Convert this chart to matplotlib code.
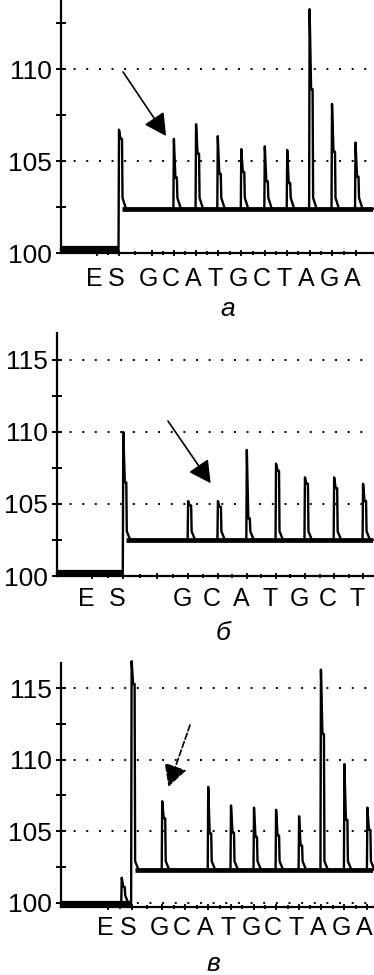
import numpy as np
import matplotlib.pyplot as plt
from matplotlib.ticker import FixedLocator, MultipleLocator, NullFormatter

plt.rcParams['font.family'] = ['Liberation Sans', 'DejaVu Sans']

W, H = 374, 975

# ---- panel а ----
letters_a = ['E', 'S', 'G', 'C', 'A', 'T', 'G', 'C', 'T', 'A', 'G', 'A']
ticks_a = [1.61, 2.59, 4.06, 5.04, 6.03, 7.00, 8.05, 9.10, 10.10, 11.10, 12.10, 13.15]
peak_x_a = [2.59, 5.04, 6.03, 7.00, 8.05, 9.10, 10.10, 11.10, 12.10, 13.15]
peak_top_a = [106.7, 106.2, 107.0, 106.35, 105.65, 105.8, 105.6, 113.25, 108.1, 106.0]
peak_sh_a = [106.2, 104.1, 105.4, 104.3, 104.4, 103.9, 103.8, 108.9, 105.5, 104.15]
base_a = (100.2, 102.4)

# ---- panel б ----
letters_b = ['E', 'S', '', 'G', 'C', 'A', 'T', 'G', 'C', 'T']
ticks_b = [1.20, 2.27, 3.42, 4.49, 5.51, 6.50, 7.50, 8.49, 9.49, 10.48]
peak_x_b = [2.27, 4.49, 5.51, 6.50, 7.50, 8.49, 9.49, 10.48]
peak_top_b = [110.0, 105.2, 105.2, 108.75, 107.8, 106.85, 106.85, 106.4]
peak_sh_b = [106.5, 104.9, 104.8, 104.0, 107.3, 106.4, 106.1, 105.2]
base_b = (100.2, 102.5)

# ---- panel в ----
letters_c = ['E', 'S', 'G', 'C', 'A', 'T', 'G', 'C', 'T', 'A', 'G', 'A']
ticks_c = [2.04, 3.07, 4.40, 5.39, 6.40, 7.39, 8.39, 9.35, 10.35, 11.30, 12.32, 13.32]
peak_x_c = [2.64, 3.07, 4.40, 6.40, 7.39, 8.39, 9.35, 10.35, 11.30, 12.32, 13.32]
peak_top_c = [101.75, 116.9, 107.1, 108.1, 106.8, 106.65, 106.5, 106.05, 116.3, 109.7, 106.65]
peak_sh_c = [101.1, 115.3, 105.9, 104.85, 104.9, 104.6, 104.7, 104.0, 111.8, 105.8, 105.1]
base_c = (99.9, 102.3)

fig = plt.figure(figsize=(W / 100, H / 100), dpi=100)


def add_panel(l, t, r, b):
    return fig.add_axes([l / W, 1 - b / H, (r - l) / W, (b - t) / H])


def draw(ax, box, xmax, ylim, ticks, letters, px, tops, shs, base, step_x,
         grid, dx_lab, dy_lab, arrow, dashed=False):
    ppu = (box[2] - box[0]) / xmax
    d = lambda p: p / ppu
    pre, post = base
    xs, ys = [0], [pre]
    for x, t, s in zip(px, tops, shs):
        b0 = pre if x <= step_x else post
        b1 = pre if x < step_x else post
        xs += [x - d(0.5), x, x + d(1.5), x + d(3), x + d(3.5), x + d(7)]
        ys += [b0, t, s, s, b1 + 0.6, b1]
    xs.append(xmax)
    ys.append(post)
    # noisy baseline band
    ax.plot([0, step_x], [pre, pre], color='k', lw=4.5, clip_on=False,
            solid_capstyle='butt')
    ax.plot([step_x + d(3), xmax], [post, post], color='k', lw=3.4,
            solid_capstyle='butt')
    ax.plot(xs, ys, color='k', lw=1.7, clip_on=False)

    for g in grid:
        ax.axhline(g, color='k', lw=1.4, ls=(0, (1, 5.5)), zorder=0)

    ax.set_xlim(0, xmax)
    ax.set_ylim(*ylim)
    for s in ['top', 'right']:
        ax.spines[s].set_visible(False)
    for s in ['left', 'bottom']:
        ax.spines[s].set_linewidth(1.6)

    ax.yaxis.set_major_locator(MultipleLocator(5))
    ax.yaxis.set_minor_locator(MultipleLocator(2.5))
    ax.tick_params(axis='y', which='both', direction='inout', length=6.5,
                   width=1.4, labelsize=19, pad=3)
    mids = [(a + b) / 2 for a, b in zip(ticks[:-1], ticks[1:])]
    ax.xaxis.set_major_locator(FixedLocator(ticks))
    ax.xaxis.set_minor_locator(FixedLocator(mids))
    ax.xaxis.set_major_formatter(NullFormatter())
    ax.tick_params(axis='x', which='major', direction='inout', length=5, width=1.3)
    ax.tick_params(axis='x', which='minor', direction='inout', length=2.5, width=1.3)

    for x, lab in zip(ticks, letters):
        ax.annotate(lab, xy=(x, 0), xycoords=ax.get_xaxis_transform(),
                    xytext=(dx_lab, -dy_lab), textcoords='offset points',
                    ha='center', va='baseline', fontsize=18, annotation_clip=False)

    (x0, y0), (x1, y1) = arrow
    ax.annotate('', xy=(x1, y1), xytext=(x0, y0),
                arrowprops=dict(arrowstyle='-|>,head_length=0.75,head_width=0.4',
                                mutation_scale=18, lw=1.2, color='k',
                                ls='--' if dashed else '-',
                                shrinkA=0, shrinkB=0))


box_a = (61, 0, 373, 253)
ax1 = add_panel(*box_a)
draw(ax1, box_a, 13.93, (100, 113.75), ticks_a, letters_a, peak_x_a, peak_top_a,
     peak_sh_a, base_a, 2.59, [105, 110], -2.2, 23.8,
     ((2.77, 109.84), (4.69, 106.36)))

box_b = (57, 333.3, 372.7, 576)
ax2 = add_panel(*box_b)
draw(ax2, box_b, 10.81, (100, 116.85), ticks_b, letters_b, peak_x_b, peak_top_b,
     peak_sh_b, base_b, 2.27, [105, 110, 115], -4.3, 21.6,
     ((3.80, 110.76), (5.26, 106.44)))

box_c = (61, 662.7, 372.7, 906.7)
ax3 = add_panel(*box_c)
draw(ax3, box_c, 13.55, (99.72, 116.79), ticks_c, letters_c, peak_x_c, peak_top_c,
     peak_sh_c, base_c, 3.07, [100, 105, 110, 115], -2.2, 20.4,
     ((5.61, 112.43), (4.67, 108.11)), dashed=True)

fig.text(228 / W, 1 - 316 / H, 'а', fontsize=19, style='italic', ha='center', va='baseline')
fig.text(223 / W, 1 - 640 / H, 'б', fontsize=19, style='italic', ha='center', va='baseline')
fig.text(213 / W, 1 - 971 / H, 'в', fontsize=19, style='italic', ha='center', va='baseline')

fig.savefig('out.png', dpi=100)
